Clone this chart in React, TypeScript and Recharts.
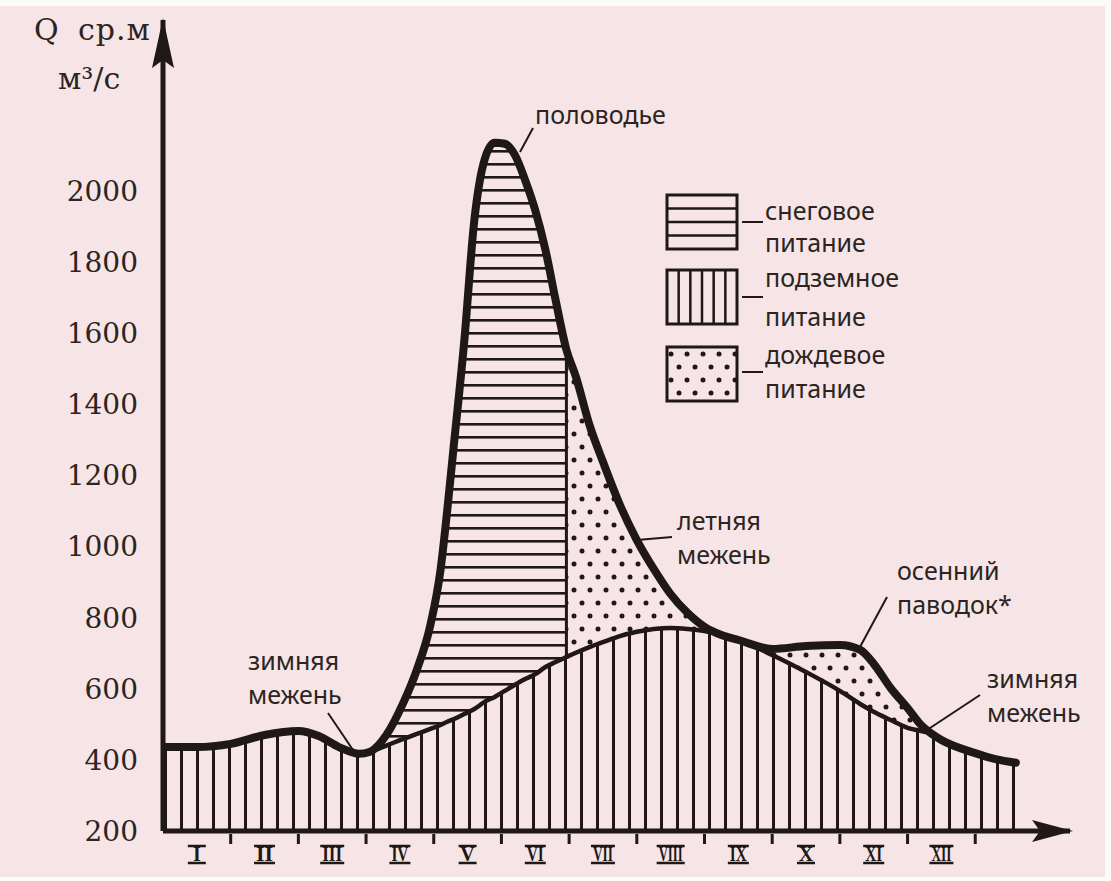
import React from 'react'
import {
  ComposedChart,
  Area,
  Line,
  XAxis,
  YAxis,
  ReferenceDot,
  ReferenceLine,
  Legend,
} from 'recharts'

// month positions (0 = start of January), discharge in m3/s
const monthNames = ['I', 'II', 'III', 'IV', 'V', 'VI', 'VII', 'VIII', 'IX', 'X', 'XI', 'XII']
const months = [
  0, 0.5, 1, 1.5, 2, 2.3, 2.6, 2.9, 3.05, 3.3, 3.55, 3.75, 3.95, 4.1, 4.2, 4.3, 4.45,
  4.6, 4.75, 4.9, 5.05, 5.2, 5.35, 5.5, 5.65, 5.8, 5.96, 6.1, 6.3, 6.5, 6.75, 7, 7.25,
  7.5, 7.75, 8, 8.25, 8.5, 9, 9.5, 10, 10.3, 10.5, 10.75, 11, 11.2, 11.35, 11.5, 12,
  12.3, 12.6,
]
const groundQ = [
  436, 436, 445, 470, 481, 467, 436, 417, 422, 440, 459, 473, 487, 498, 507, 515, 529,
  543, 563, 577, 594, 611, 627, 641, 661, 675, 689, 701, 717, 731, 748, 760, 768,
  771, 768, 762, 751, 737, 695, 647, 594, 557, 535, 512, 490, 481, 474, 456, 419,
  402, 392,
]
const totalQ = [
  436, 436, 445, 470, 481, 467, 436, 417, 422, 470, 560, 653, 779, 934, 1103, 1291, 1575,
  1918, 2087, 2135, 2132, 2100, 2030, 1945, 1834, 1693, 1553, 1477, 1342, 1238, 1117, 1018, 937,
  866, 813, 774, 751, 737, 712, 720, 723, 709, 670, 602, 546, 498, 474, 456, 419,
  402, 392,
]
// end of snow feeding, rain feeding to the right of it
const snowEnd = 5.96
const yTicks = [200, 400, 600, 800, 1000, 1200, 1400, 1600, 1800, 2000]
const xTicks = [0.5, 1, 1.5, 2, 2.5, 3, 3.5, 4, 4.5, 5, 5.5, 6, 6.5, 7, 7.5, 8, 8.5, 9, 9.5, 10, 10.5, 11, 11.5, 12]

const legendItems = [
  { kind: 'h', lines: ['снеговое', 'питание'] },
  { kind: 'v', lines: ['подземное', 'питание'] },
  { kind: 'dots', lines: ['дождевое', 'питание'] },
]

const data = months.map((m, i) => ({
  m,
  ground: groundQ[i],
  total: totalQ[i],
  snow: m <= snowEnd ? [groundQ[i], totalQ[i]] : null,
  rain: m >= snowEnd ? [groundQ[i], totalQ[i]] : null,
}))
const splitIdx = months.indexOf(snowEnd)

const ink = '#1f1814'
const textInk = '#2b2421'
const sans = '"Noto Sans", sans-serif'
const noteSize = 25

// annotation layout (px)
const notes = [
  { x: 535, y: [124], text: ['половодье'], lead: [520, 152, 533, 128] },
  { x: 677, y: [530, 564], text: ['летняя', 'межень'], lead: [637, 540, 672, 537] },
  { x: 897, y: [580, 614], text: ['осенний', 'паводок*'], lead: [860, 647, 887, 597] },
  { x: 987, y: [688, 722], text: ['зимняя', 'межень'], lead: [927, 730, 980, 695] },
  { x: 248, y: [670, 704], text: ['зимняя', 'межень'], lead: [328, 713, 353, 750] },
]
const legendLayout = [
  { top: 2, base: [27, 59], dash: 29 },
  { top: 77, base: [94, 133], dash: 104 },
  { top: 154, base: [171, 205], dash: 179 },
]

const labelWidth = [0, 18, 21, 24, 28]

const MonthTick = (props: any) => {
  const { x, y, payload } = props
  const v = payload.value
  if (Number.isInteger(v)) {
    return <line x1={x} x2={x} y1={y + 3} y2={y + 13} stroke={ink} strokeWidth={3} />
  }
  const label = monthNames[Math.floor(v)]
  const w = labelWidth[label.length]
  return (
    <g>
      <line x1={x - w / 2} x2={x + w / 2} y1={y + 15} y2={y + 15} stroke={ink} strokeWidth={2.5} />
      <line x1={x - w / 2} x2={x + w / 2} y1={y + 32} y2={y + 32} stroke={ink} strokeWidth={2.5} />
      <text
        x={x}
        y={y + 30}
        textAnchor="middle"
        fontFamily="Liberation Serif"
        fontWeight={700}
        fontSize={20}
        fill={ink}
        {...(label.length > 1 ? { textLength: w - 4, lengthAdjust: 'spacingAndGlyphs' } : {})}
      >
        {label}
      </text>
    </g>
  )
}

const UpArrow = (p: any) => (
  <path d={`M${p.cx},${p.cy - 2} L${p.cx + 11},${p.cy + 48} L${p.cx},${p.cy + 40} L${p.cx - 11},${p.cy + 48} Z`} fill={ink} />
)
const RightArrow = (p: any) => (
  <path d={`M${p.cx + 3},${p.cy} L${p.cx - 38},${p.cy - 11} L${p.cx - 30},${p.cy} L${p.cx - 38},${p.cy + 11} Z`} fill={ink} />
)

const LegendBoxes = () => (
  <svg width={260} height={215} style={{ display: 'block', overflow: 'visible' }}>
    {legendItems.map((it, i) => {
      const { top, base, dash } = legendLayout[i]
      const w = 70
      const h = 54
      return (
        <g key={i}>
          <rect x={2} y={top} width={w} height={h} fill={it.kind === 'dots' ? 'url(#rainDots)' : 'none'} />
          {it.kind === 'h' &&
            [1, 2, 3].map((k) => (
              <line key={k} x1={2} x2={2 + w} y1={top + (h * k) / 4} y2={top + (h * k) / 4} stroke={ink} strokeWidth={2.5} />
            ))}
          {it.kind === 'v' &&
            [1, 2, 3, 4, 5].map((k) => (
              <line key={k} x1={2 + (w * k) / 6} x2={2 + (w * k) / 6} y1={top} y2={top + h} stroke={ink} strokeWidth={2.5} />
            ))}
          <rect x={2} y={top} width={w} height={h} fill="none" stroke={ink} strokeWidth={3} />
          <line x1={77} x2={98} y1={dash} y2={dash} stroke={ink} strokeWidth={2} />
          {it.lines.map((t, j) => (
            <text key={j} x={100} y={base[j]} fontFamily={sans} fontSize={noteSize} fill={textInk}>
              {t}
            </text>
          ))}
        </g>
      )
    })}
  </svg>
)

export default function App() {
  return (
    <div style={{ position: 'absolute', left: 0, top: 0, width: 1111, height: 881, background: '#fdfafa' }}>
      <div style={{ position: 'absolute', left: 0, top: 6, width: 1105, height: 871, background: '#f6e4e7' }} />
      <svg width={0} height={0} style={{ position: 'absolute' }}>
        <defs>
          <pattern id="vHatch" patternUnits="userSpaceOnUse" x={4} y={0} width={16} height={16}>
            <rect x={0} y={0} width={3} height={16} fill={ink} />
          </pattern>
          <pattern id="hHatch" patternUnits="userSpaceOnUse" x={0} y={7} width={16} height={13}>
            <rect x={0} y={0} width={16} height={2.6} fill={ink} />
          </pattern>
          <pattern id="rainDots" patternUnits="userSpaceOnUse" x={0} y={0} width={32} height={26}>
            <circle cx={6} cy={5} r={2.5} fill={ink} />
            <circle cx={22} cy={5} r={2.5} fill={ink} />
            <circle cx={14} cy={18} r={2.5} fill={ink} />
            <circle cx={30} cy={18} r={2.5} fill={ink} />
            <circle cx={-2} cy={18} r={2.5} fill={ink} />
          </pattern>
        </defs>
      </svg>
      <div style={{ position: 'absolute', left: 0, top: 0 }}>
        <ComposedChart width={1111} height={881} data={data} margin={{ top: 20, right: 41, bottom: 20, left: 0 }}>
          <XAxis
            dataKey="m"
            type="number"
            domain={[0, 13.4]}
            allowDataOverflow
            ticks={xTicks}
            interval={0}
            tickLine={false}
            tickSize={0}
            tickMargin={0}
            height={30}
            axisLine={{ stroke: ink, strokeWidth: 5 }}
            tick={(p: any) => <MonthTick {...p} />}
          />
          <YAxis
            type="number"
            domain={[200, 2480]}
            allowDataOverflow
            ticks={yTicks}
            interval={0}
            width={163}
            tickLine={false}
            tickSize={0}
            tickMargin={25}
            axisLine={{ stroke: ink, strokeWidth: 5 }}
            tick={{ fontFamily: 'DejaVu Serif', fontSize: 28, fill: textInk }}
          />
          <Legend
            layout="vertical"
            align="center"
            verticalAlign="middle"
            content={() => <LegendBoxes />}
            wrapperStyle={{ position: 'absolute', left: 665, top: 193, width: 260, height: 215 }}
          />
          <Area
            type="monotone"
            dataKey="ground"
            baseValue={200}
            stroke="none"
            fill="url(#vHatch)"
            fillOpacity={1}
            isAnimationActive={false}
            legendType="none"
          />
          <Area
            type="monotone"
            dataKey="snow"
            stroke="none"
            fill="url(#hHatch)"
            fillOpacity={1}
            isAnimationActive={false}
            legendType="none"
          />
          <Area
            type="monotone"
            dataKey="rain"
            stroke="none"
            fill="url(#rainDots)"
            fillOpacity={1}
            isAnimationActive={false}
            legendType="none"
          />
          <ReferenceLine
            segment={[
              { x: snowEnd, y: groundQ[splitIdx] },
              { x: snowEnd, y: totalQ[splitIdx] },
            ]}
            stroke={ink}
            strokeWidth={3}
          />
          <Line
            type="monotone"
            dataKey="ground"
            stroke={ink}
            strokeWidth={4.5}
            dot={false}
            isAnimationActive={false}
            legendType="none"
          />
          <Line
            type="monotone"
            dataKey="total"
            stroke={ink}
            strokeWidth={8}
            strokeLinecap="round"
            strokeLinejoin="round"
            dot={false}
            isAnimationActive={false}
            legendType="none"
          />
          <ReferenceDot x={0} y={2480} ifOverflow="visible" shape={(p: any) => <UpArrow {...p} />} />
          <ReferenceDot x={13.4} y={200} ifOverflow="visible" shape={(p: any) => <RightArrow {...p} />} />
        </ComposedChart>
      </div>
      <svg width={1111} height={881} style={{ position: 'absolute', left: 0, top: 0, pointerEvents: 'none' }}>
        <text x={34} y={40} fontFamily="DejaVu Serif" fontSize={30} fill={textInk}>
          Q
        </text>
        <text x={78} y={40} fontFamily="DejaVu Serif" fontSize={30} letterSpacing={1} fill={textInk}>
          ср.м
        </text>
        <text x={58} y={89} fontFamily="DejaVu Serif" fontSize={30} fill={textInk}>
          м³/с
        </text>
        {notes.map((n, i) => (
          <g key={i}>
            <line x1={n.lead[0]} y1={n.lead[1]} x2={n.lead[2]} y2={n.lead[3]} stroke={ink} strokeWidth={2} />
            {n.text.map((t, j) => (
              <text key={j} x={n.x} y={n.y[j]} fontFamily={sans} fontSize={noteSize} fill={textInk}>
                {t}
              </text>
            ))}
          </g>
        ))}
      </svg>
    </div>
  )
}
